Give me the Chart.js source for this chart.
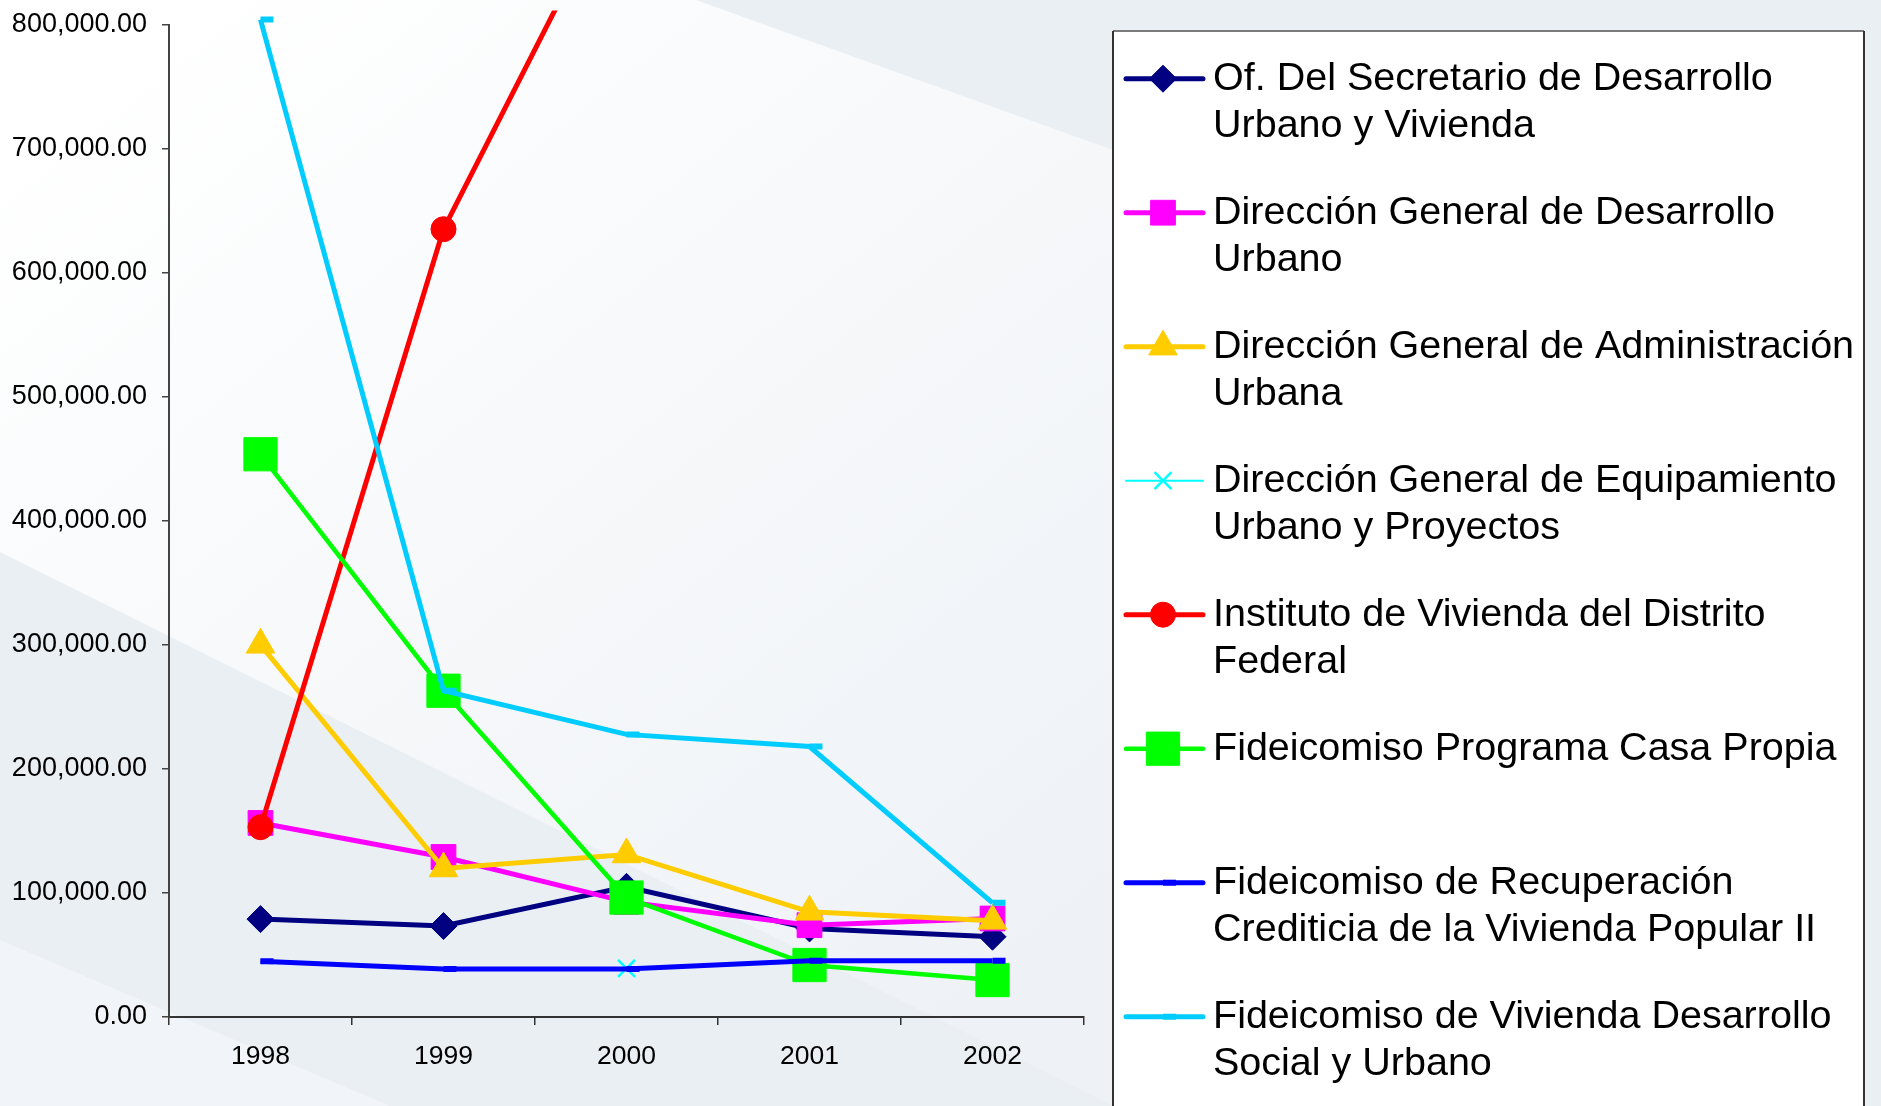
<!DOCTYPE html>
<html>
<head>
<meta charset="utf-8">
<title>Presupuesto por dependencia 1998-2002</title>
<script src="https://cdn.jsdelivr.net/npm/chart.js@4.4.1/dist/chart.umd.min.js"></script>
<style>
  html, body { margin: 0; padding: 0; background: #eaf0f4; }
  #wrap { width: 1881px; height: 1106px; position: relative; }
</style>
</head>
<body>
<div id="wrap"><canvas id="lineChart" width="1881" height="1106"></canvas></div>
<script>
// Data
const years = ['1998', '1999', '2000', '2001', '2002'];
const yTicks = [0, 100000, 200000, 300000, 400000, 500000, 600000, 700000, 800000];

const ofSecretario   = [78900, 73300, 104900, 71400, 64700];
const dgDesarrollo   = [156400, 129000, 92800, 74000, 79400];
const dgAdministracion = [300000, 119700, 131000, 84800, 77500];
const dgEquipamiento = [null, null, 39200, null, null];
const invi           = [153000, 635000, 925000, null, null];
const casaPropia     = [453600, 263000, 96300, 41900, 29800];
const recuperacion   = [45000, 38600, 38600, 45300, 45300];
const viviendaSocial = [804000, 263000, 227800, 218000, 92000];

const legendLines = [
  ['Of. Del Secretario de Desarrollo', 'Urbano y Vivienda'],
  ['Dirección General de Desarrollo', 'Urbano'],
  ['Dirección General de Administración', 'Urbana'],
  ['Dirección General de Equipamiento', 'Urbano y Proyectos'],
  ['Instituto de Vivienda del Distrito', 'Federal'],
  ['Fideicomiso Programa Casa Propia'],
  ['Fideicomiso de Recuperación', 'Crediticia de la Vivienda Popular II'],
  ['Fideicomiso de Vivienda Desarrollo', 'Social y Urbano']
];

const FONT = '"Liberation Sans", Arial, sans-serif';

function makeSeries(i, data, color, style, radius, lineWidth, pointBorder) {
  return {
    label: legendLines[i].join(' '),
    data: data,
    borderColor: color,
    backgroundColor: color,
    borderWidth: lineWidth,
    pointStyle: style,
    pointRadius: radius,
    pointBorderWidth: pointBorder,
    pointBackgroundColor: color,
    pointBorderColor: color,
    tension: 0,
    spanGaps: false,
    order: 10 - i,
    clip: { left: 10, top: 14, right: 10, bottom: 10 }
  };
}

const datasets = [
  makeSeries(0, ofSecretario, '#000080', 'rectRot', 13.5, 5, 1),
  makeSeries(1, dgDesarrollo, '#ff00ff', 'rect', 17.5, 5, 1),
  makeSeries(2, dgAdministracion, '#ffcc00', 'triangle', 16.5, 5, 1),
  makeSeries(3, dgEquipamiento, '#00ffff', 'crossRot', 12, 2, 2.5),
  makeSeries(4, invi, '#ff0000', 'circle', 12.5, 5, 1),
  makeSeries(5, casaPropia, '#00ff00', 'rect', 23.5, 4.5, 1),
  makeSeries(6, recuperacion, '#0000ff', 'dash', 13, 5, 6),
  makeSeries(7, viviendaSocial, '#00ccff', 'dash', 13, 5, 6)
];

// background of the slide
const slideBackground = {
  id: 'slideBackground',
  beforeDraw(chart) {
    const ctx = chart.ctx;
    ctx.save();
    ctx.fillStyle = '#e9eff3';
    ctx.fillRect(0, 0, chart.width, chart.height);

    const g = ctx.createLinearGradient(200, 0, 1000, 1000);
    g.addColorStop(0, '#ffffff');
    g.addColorStop(0.5, '#f6f8fa');
    g.addColorStop(1, '#eef2f7');
    ctx.fillStyle = g;
    ctx.beginPath();
    ctx.moveTo(0, 0);
    ctx.lineTo(696, 0);
    ctx.lineTo(1113, 150);
    ctx.lineTo(1113, 1106);
    ctx.lineTo(0, 552);
    ctx.closePath();
    ctx.fill();

    ctx.fillStyle = '#f1f4f8';
    ctx.beginPath();
    ctx.moveTo(0, 940);
    ctx.lineTo(390, 1106);
    ctx.lineTo(0, 1106);
    ctx.closePath();
    ctx.fill();
    ctx.restore();
  }
};

// boxed legend on the right, two text lines per entry
const boxLegend = {
  id: 'boxLegend',
  afterDraw(chart) {
    const ctx = chart.ctx;
    ctx.save();
    ctx.fillStyle = '#ffffff';
    ctx.fillRect(1113, 31, 751, 1100);
    ctx.lineWidth = 2;
    ctx.strokeStyle = '#7a7a7a';
    ctx.beginPath();
    ctx.moveTo(1113, 31);
    ctx.lineTo(1864, 31);
    ctx.stroke();
    ctx.strokeStyle = '#333333';
    ctx.beginPath();
    ctx.moveTo(1113, 31);
    ctx.lineTo(1113, 1110);
    ctx.moveTo(1864, 31);
    ctx.lineTo(1864, 1110);
    ctx.stroke();

    chart.data.datasets.forEach((ds, i) => {
      const y = 78.7 + i * 134;
      ctx.strokeStyle = ds.borderColor;
      ctx.lineWidth = Math.min(ds.borderWidth, 5);
      ctx.lineCap = 'round';
      ctx.beginPath();
      ctx.moveTo(1126, y);
      ctx.lineTo(1203, y);
      ctx.stroke();
      ctx.lineCap = 'butt';
      ctx.fillStyle = ds.pointBackgroundColor;
      ctx.strokeStyle = ds.pointBorderColor;
      ctx.lineWidth = ds.pointBorderWidth;
      Chart.helpers.drawPoint(ctx, {
        pointStyle: ds.pointStyle,
        radius: ds.pointRadius,
        borderWidth: ds.pointBorderWidth,
        rotation: 0
      }, 1163, y);

      ctx.fillStyle = '#000000';
      ctx.font = '39.5px ' + FONT;
      ctx.textAlign = 'left';
      ctx.textBaseline = 'alphabetic';
      legendLines[i].forEach((t, k) => {
        ctx.fillText(t, 1213, y + 11.5 + k * 47);
      });
    });
    ctx.restore();
  }
};

const ctx = document.getElementById('lineChart').getContext('2d');
new Chart(ctx, {
  type: 'line',
  data: { labels: years, datasets: datasets },
  options: {
    responsive: false,
    animation: false,
    devicePixelRatio: 1,
    layout: { padding: { left: 0, top: 23, right: 797, bottom: 0 } },
    plugins: {
      legend: { display: false },
      tooltip: { enabled: false }
    },
    scales: {
      x: {
        offset: true,
        grid: { offset: true, drawOnChartArea: false, tickLength: 8, color: '#333', lineWidth: 1.5 },
        border: { color: '#333', width: 2 },
        ticks: { color: '#000', padding: 16, maxRotation: 0, font: { family: FONT, size: 26.5 } },
        afterFit(scale) { scale.height = 89; }
      },
      y: {
        min: yTicks[0],
        max: yTicks[yTicks.length - 1],
        afterBuildTicks(scale) { scale.ticks = yTicks.map(v => ({ value: v })); },
        grid: { drawOnChartArea: false, tickLength: 7, color: '#444', lineWidth: 1.5 },
        border: { color: '#444', width: 2 },
        ticks: {
          color: '#000',
          padding: 15,
          font: { family: FONT, size: 27 },
          callback: v => v.toLocaleString('en-US', { minimumFractionDigits: 2, maximumFractionDigits: 2 })
        },
        afterFit(scale) {
          scale.width = 169;
          scale.paddingTop = 0;
          scale.paddingBottom = 0;
        }
      }
    }
  },
  plugins: [slideBackground, boxLegend]
});
</script>
</body>
</html>
